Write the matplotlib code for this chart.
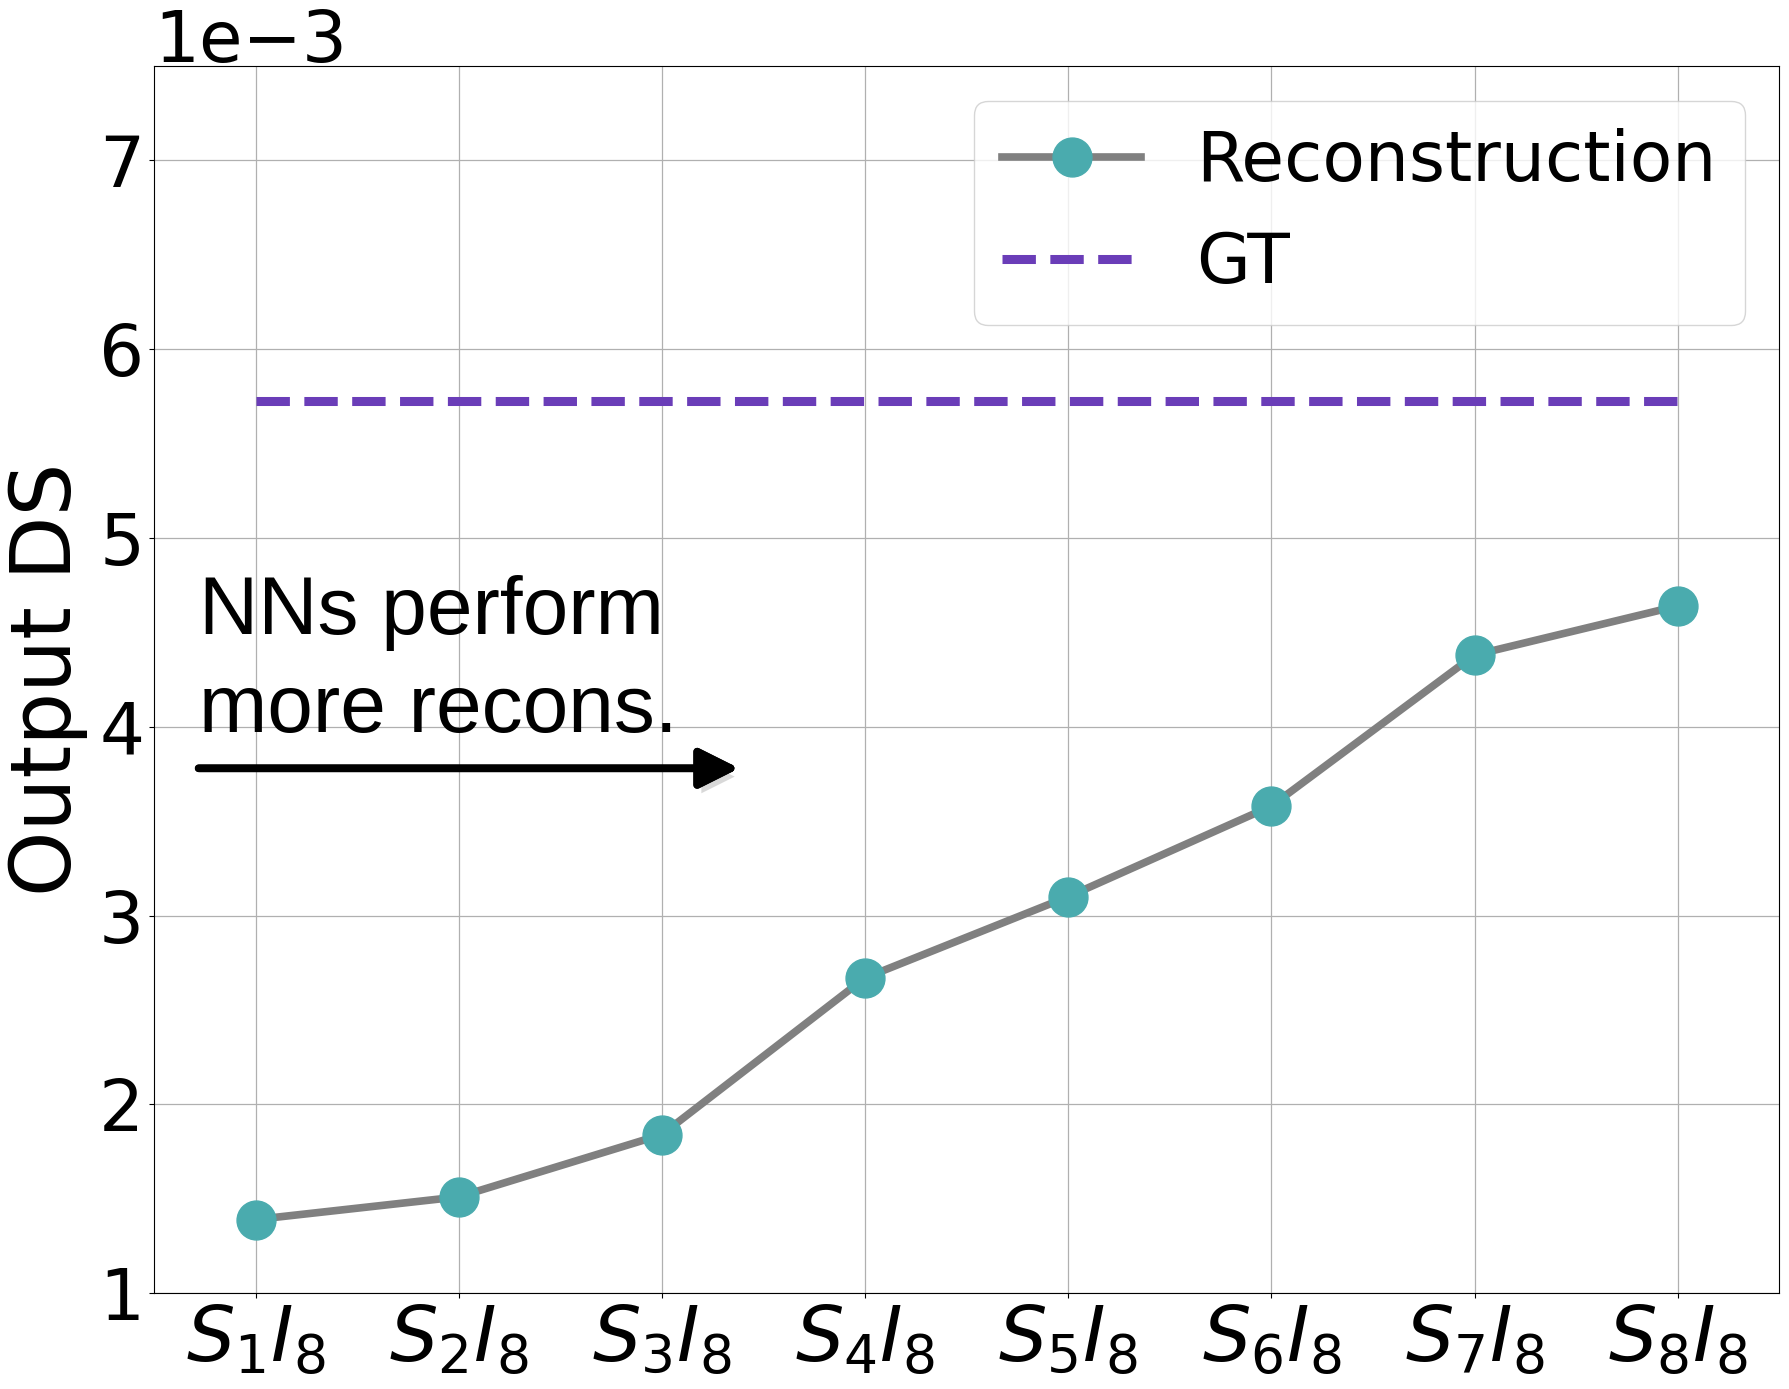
import matplotlib
matplotlib.use("Agg")
import matplotlib.pyplot as plt
import matplotlib.patheffects as pe
from matplotlib.ticker import ScalarFormatter

# values (units of 1e-3)
steps = [1, 2, 3, 4, 5, 6, 7, 8]
tick_labels = [r"$S_{%d}I_{8}$" % i for i in steps]
recon = [1.39, 1.51, 1.84, 2.67, 3.10, 3.58, 4.38, 4.64]
gt_value = 5.725

recon = [v * 1e-3 for v in recon]
gt = [gt_value * 1e-3] * len(steps)

fig = plt.figure(figsize=(17.9, 13.89), dpi=100)
ax = fig.add_axes([0.086, 0.069, 0.908, 0.8835])

ax.plot(steps, recon, color="#808080", lw=5.5, marker="o", markersize=28,
        markerfacecolor="#4AABAE", markeredgecolor="#4AABAE",
        label="Reconstruction", zorder=3)
ax.plot(steps, gt, color="#6A3DB8", lw=6.5, ls="--", label="GT", zorder=3)

ax.set_xlim(0.5, 8.5)
ax.set_ylim(1e-3, 7.5e-3)
ax.set_xticks(steps)
ax.set_xticklabels(tick_labels, fontsize=55)
ax.set_yticks([1e-3, 2e-3, 3e-3, 4e-3, 5e-3, 6e-3, 7e-3])
ax.tick_params(axis="y", labelsize=51)

fmt = ScalarFormatter(useMathText=False)
fmt.set_powerlimits((-2, 2))
ax.yaxis.set_major_formatter(fmt)
ax.yaxis.get_offset_text().set_fontsize(51)

ax.set_ylabel("Output DS", fontsize=60, labelpad=8)
ax.grid(True, color="#b0b0b0", lw=0.9)
ax.set_axisbelow(True)

ax.legend(loc="upper right", fontsize=50, borderaxespad=0.5)

ax.text(0.72, 3.97e-3, "NNs perform\nmore recons.", fontsize=59,
        family=["Liberation Sans", "DejaVu Sans"], ha="left", va="baseline",
        linespacing=1.38)
ax.annotate("", xy=(3.38, 3.78e-3), xytext=(0.72, 3.78e-3),
            arrowprops=dict(arrowstyle="-|>", lw=5.5, color="black",
                            mutation_scale=60, shrinkA=0, shrinkB=0,
                            path_effects=[pe.withSimplePatchShadow(offset=(3, -6), shadow_rgbFace="gray", alpha=0.3),
                                          pe.Normal()]))

fig.savefig("out.png", dpi=100)
